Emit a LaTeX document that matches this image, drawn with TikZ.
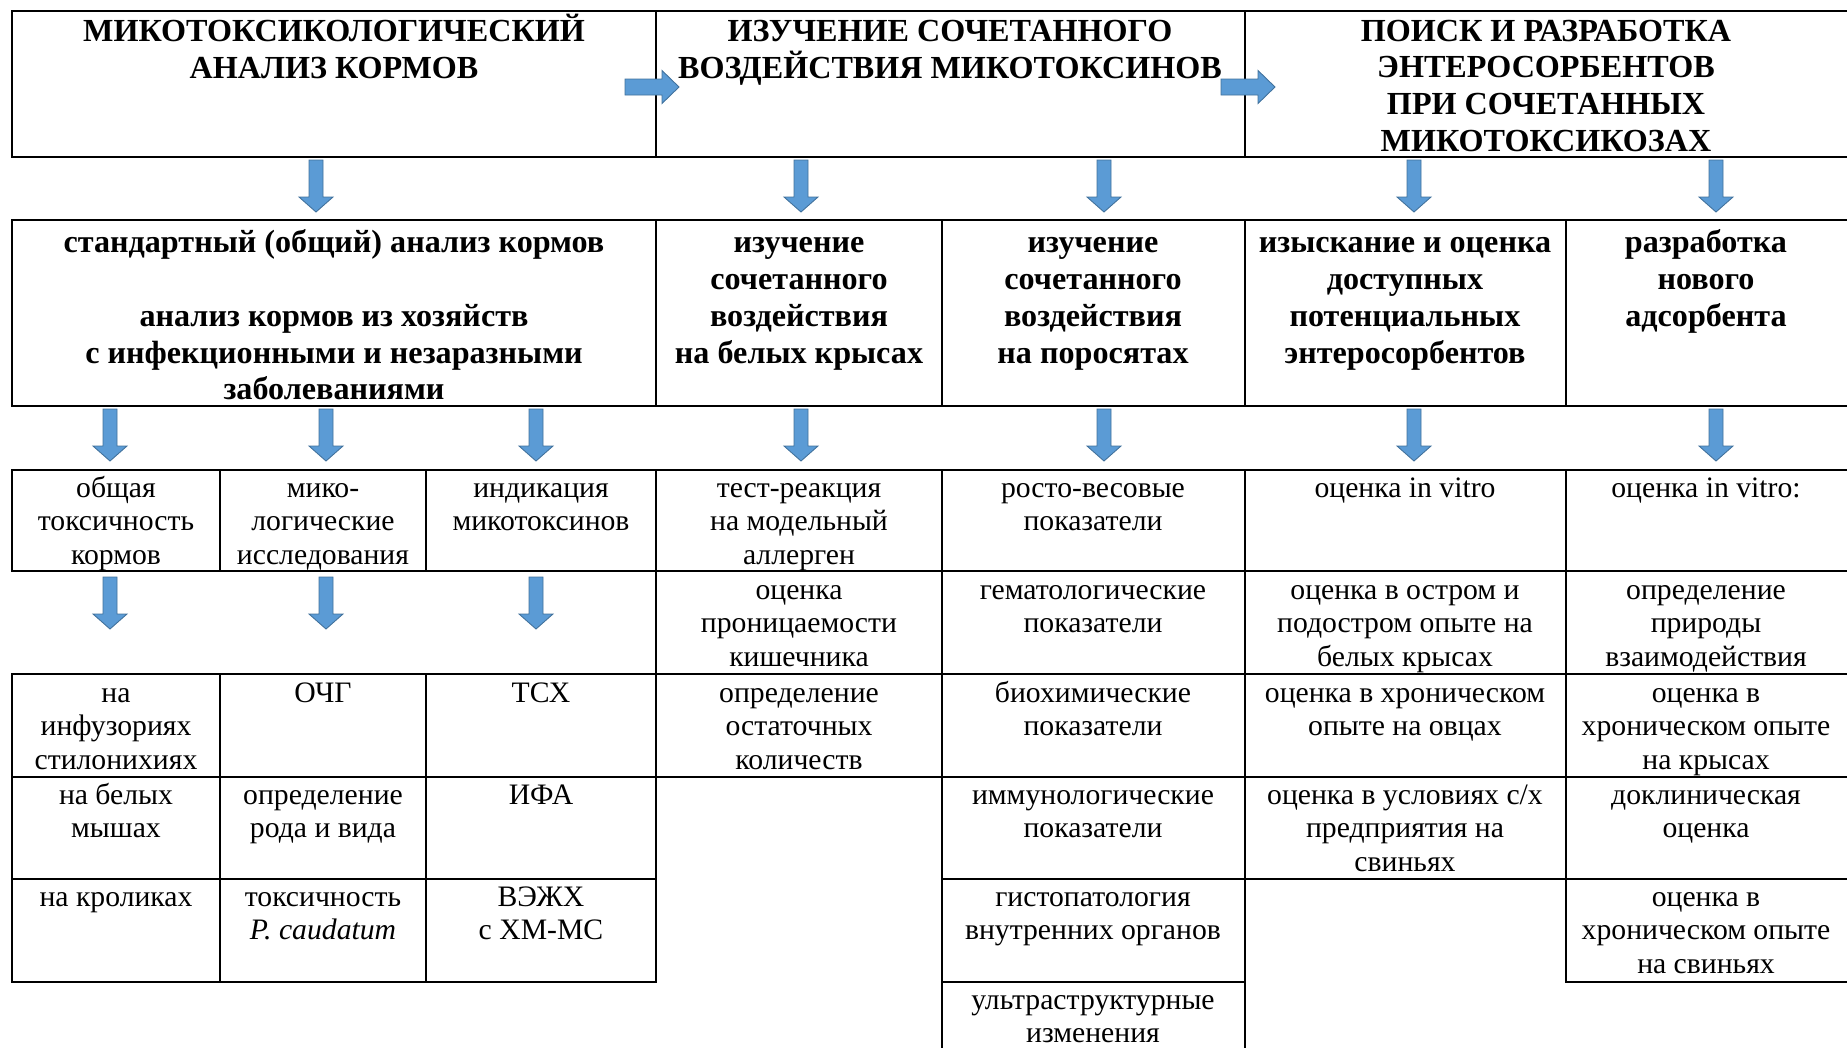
\documentclass[tikz,border=0pt]{standalone}
\usepackage{fontspec}
\setmainfont{Liberation Serif}
\definecolor{arrowfill}{RGB}{91,155,213}
\definecolor{arrowline}{RGB}{65,113,156}
\tikzset{
    gridline/.style={line width=1.1pt, line cap=rect},
    blockarrow/.style={fill=arrowfill, draw=arrowline, line width=0.5pt},
    % nodes are placed at the baseline of their last line
    headtext/.style={font=\fontsize{18.3}{20.9}\selectfont\bfseries, align=center, anchor=base, inner sep=0pt},
    celltext/.style={font=\fontsize{16.9}{19.1}\selectfont, align=center, anchor=base, inner sep=0pt}
}
\begin{document}
\begin{tikzpicture}[x=0.02cm, y=-0.02cm]
        \useasboundingbox (0,0) rectangle (1847,1048);

        % horizontal lines
        \foreach \y in {11, 157, 220, 406, 470, 571, 674, 777}
            \draw[gridline] (12,\y) -- (1847,\y);
        \draw[gridline] (12,879) -- (656,879);
        \draw[gridline] (942,879) -- (1847,879);
        \draw[gridline] (12,982) -- (656,982);
        \draw[gridline] (942,982) -- (1245,982);
        \draw[gridline] (1566,982) -- (1847,982);

        % vertical lines
        \foreach \x in {12, 656, 1245}
            \draw[gridline] (\x,11) -- (\x,157);
        \foreach \x in {12, 656, 942, 1245, 1566}
            \draw[gridline] (\x,220) -- (\x,406);
        \foreach \x in {12, 220, 426}
        {
            \draw[gridline] (\x,470) -- (\x,571);
            \draw[gridline] (\x,674) -- (\x,982);
        }
        \draw[gridline] (656,470) -- (656,982);
        \draw[gridline] (1566,470) -- (1566,982);
        \draw[gridline] (942,470) -- (942,1048);
        \draw[gridline] (1245,470) -- (1245,1048);

        % block arrows
        \foreach \x/\y in {316/160, 801/160, 1104/160, 1414/160, 1716/160,
                           110/409, 326/409, 536/409, 801/409, 1104/409, 1414/409, 1716/409,
                           110/577, 326/577, 536/577}
            \filldraw[blockarrow] (\x-7,\y) -- (\x+7,\y) -- (\x+7,\y+37) -- (\x+17,\y+37)
                -- (\x,\y+52) -- (\x-17,\y+37) -- (\x-7,\y+37) -- cycle;
        \foreach \x in {625, 1221}
            \filldraw[blockarrow] (\x,79) -- (\x+37,79) -- (\x+37,70.5) -- (\x+54,87)
                -- (\x+37,103.5) -- (\x+37,95) -- (\x,95) -- cycle;

        % top row
        \node[headtext] (main1) at (334,78) {МИКОТОКСИКОЛОГИЧЕСКИЙ\\АНАЛИЗ КОРМОВ};
        \node[headtext] (main2) at (950,78) {ИЗУЧЕНИЕ СОЧЕТАННОГО\\ВОЗДЕЙСТВИЯ МИКОТОКСИНОВ};
        \node[headtext] (main3) at (1546,151.4) {ПОИСК И РАЗРАБОТКА\\ЭНТЕРОСОРБЕНТОВ\\ПРИ СОЧЕТАННЫХ\\МИКОТОКСИКОЗАХ};

        % second row
        \node[headtext] (std) at (334,399.8) {стандартный (общий) анализ кормов\\[20.9pt]анализ кормов из хозяйств\\с инфекционными и незаразными\\заболеваниями};
        \node[headtext] (rats) at (799,363.1) {изучение\\сочетанного\\воздействия\\на белых крысах};
        \node[headtext] (pigs) at (1093,363.1) {изучение\\сочетанного\\воздействия\\на поросятах};
        \node[headtext] (search) at (1405,363.1) {изыскание и оценка\\доступных\\потенциальных\\энтеросорбентов};
        \node[headtext] (newads) at (1706,326.4) {разработка\\нового\\адсорбента};

        % third row and below
        \node[celltext] (tox) at (116,564.2) {общая\\токсичность\\кормов};
        \node[celltext] (myco) at (323,564.2) {мико-\\логические\\исследования};
        \node[celltext] (ind) at (541,530.6) {индикация\\микотоксинов};
        \node[celltext] (r1) at (799,564.2) {тест-реакция\\на модельный\\аллерген};
        \node[celltext] (p1) at (1093,530.6) {росто-весовые\\показатели};
        \node[celltext] (s1) at (1405,497) {оценка in vitro};
        \node[celltext] (n1) at (1706,497) {оценка in vitro:};

        \node[celltext] (r2) at (799,666.2) {оценка\\проницаемости\\кишечника};
        \node[celltext] (p2) at (1093,632.6) {гематологические\\показатели};
        \node[celltext] (s2) at (1405,666.2) {оценка в остром и\\подостром опыте на\\белых крысах};
        \node[celltext] (n2) at (1706,666.2) {определение\\природы\\взаимодействия};

        \node[celltext] (tox1) at (116,769.2) {на\\инфузориях\\стилонихиях};
        \node[celltext] (myco1) at (323,702) {ОЧГ};
        \node[celltext] (ind1) at (541,702) {ТСХ};
        \node[celltext] (r3) at (799,769.2) {определение\\остаточных\\количеств};
        \node[celltext] (p3) at (1093,735.6) {биохимические\\показатели};
        \node[celltext] (s3) at (1405,735.6) {оценка в хроническом\\опыте на овцах};
        \node[celltext] (n3) at (1706,769.2) {оценка в\\хроническом опыте\\на крысах};

        \node[celltext] (tox2) at (116,837.6) {на белых\\мышах};
        \node[celltext] (myco2) at (323,837.6) {определение\\рода и вида};
        \node[celltext] (ind2) at (541,804) {ИФА};
        \node[celltext] (p4) at (1093,837.6) {иммунологические\\показатели};
        \node[celltext] (s4) at (1405,871.2) {оценка в условиях с/х\\предприятия на\\свиньях};
        \node[celltext] (n4) at (1706,837.6) {доклиническая\\оценка};

        \node[celltext] (tox3) at (116,906) {на кроликах};
        \node[celltext] (myco3) at (323,939.6) {токсичность\\\textit{P. caudatum}};
        \node[celltext] (ind3) at (541,939.6) {ВЭЖХ\\с ХМ-МС};
        \node[celltext] (p5) at (1093,939.6) {гистопатология\\внутренних органов};
        \node[celltext] (n5) at (1706,973.2) {оценка в\\хроническом опыте\\на свиньях};

        \node[celltext] (p6) at (1093,1042.6) {ультраструктурные\\изменения};
    \end{tikzpicture}
\end{document}
